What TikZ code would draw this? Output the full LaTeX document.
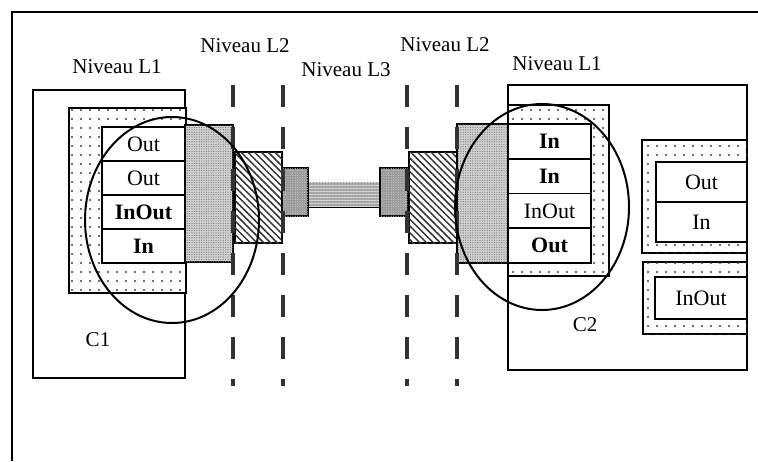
\documentclass[tikz,border=0pt]{standalone}
\usepackage{fontspec}
\setmainfont{Liberation Serif}
\usetikzlibrary{patterns.meta}

\begin{document}
\begin{tikzpicture}[x=0.5pt,y=-0.5pt,
  lab/.style={font=\fontsize{10.5}{12}\selectfont,inner sep=0pt},
  port/.style={draw,line width=0.8pt,fill=white,minimum width=41.5pt,minimum height=17pt,inner sep=0pt,font=\fontsize{11}{13}\selectfont},
  comp/.style={draw,line width=0.9pt},
  dotbox/.style={draw,line width=0.8pt,fill=white,postaction={pattern={Dots[distance=4.5pt,radius=0.55pt]},pattern color=black!75}},
  stip/.style={draw,line width=0.6pt,fill=black!18,postaction={pattern={Dots[distance=1.2pt,radius=0.3pt]},pattern color=black!55}},
  hatch/.style={draw,line width=0.8pt,fill=white,postaction={pattern={Lines[angle=-45,distance=2.4pt,line width=0.75pt]},pattern color=black!80}},
  plug/.style={draw,line width=0.8pt,fill=black!40,postaction={pattern={Dots[distance=1.2pt,radius=0.3pt]},pattern color=black!20}},
  wire/.style={fill=black!35,postaction={pattern={Lines[angle=0,distance=1.5pt,line width=0.4pt]},pattern color=black!15}},
  level/.style={line width=2.3pt,draw=black!80,dash pattern=on 11pt off 10pt},
  zone/.style={line width=1pt}]
  \useasboundingbox (0,0) rectangle (758,461);
  % frame
  \draw[line width=1pt] (12,461) -- (12,12) -- (758,12);
  % component C1
  \draw[comp] (33,90) rectangle (185,378);
  \draw[dotbox] (69,108) rectangle (186,293);
  \foreach \t/\y/\n in {Out/144/1,Out/178/2,\textbf{InOut}/212/3,\textbf{In}/246/4}
    \node[port] (pa\n) at (143.5,\y) {\t};
  \node[lab] (c1) at (98,340) {C1};
  % component C2
  \draw[comp] (508,85) rectangle (747,370);
  \draw[dotbox] (508,105) rectangle (609,276);
  \foreach \t/\y/\n in {\textbf{In}/141.4/1,\textbf{In}/176.1/2,InOut/210.9/3,\textbf{Out}/245.6/4}
    \node[port,minimum height=17.4pt] (pb\n) at (549.5,\y) {\t};
  \draw[dotbox] (642,140) rectangle (747,253);
  \node[port,minimum width=45.5pt,minimum height=20pt] (pc1) at (701.5,182) {Out};
  \node[port,minimum width=45.5pt,minimum height=20pt] (pc2) at (701.5,222) {In};
  \draw[dotbox] (643,262) rectangle (747,334);
  \node[port,minimum width=46pt,minimum height=21pt] (pd1) at (701,298) {InOut};
  \node[lab] (c2) at (585,325) {C2};
  % link between the two sides
  \draw[stip] (185,125) rectangle (233,262);
  \draw[hatch] (235,152) rectangle (282,243);
  \draw[wire] (308,182) rectangle (380,207);
  \draw[plug] (282,168) rectangle (308,216);
  \draw[plug] (380,168) rectangle (408,216);
  \draw[hatch] (409,152) rectangle (457,243);
  \draw[stip] (457,124) rectangle (508,263);
  % level boundaries
  \foreach \x in {233,283,407,457}
    \draw[level] (\x,85) -- (\x,386);
  \draw[zone] (172,220) ellipse [x radius=87,y radius=103];
  \draw[zone] (542,207) ellipse [x radius=87,y radius=103];
  % level names
  \node[lab] (n1a) at (117,67) {Niveau L1};
  \node[lab] (n2a) at (245,46) {Niveau L2};
  \node[lab] (n3) at (346,70) {Niveau L3};
  \node[lab] (n2b) at (445,45) {Niveau L2};
  \node[lab] (n1b) at (557,64) {Niveau L1};
\end{tikzpicture}
\end{document}
